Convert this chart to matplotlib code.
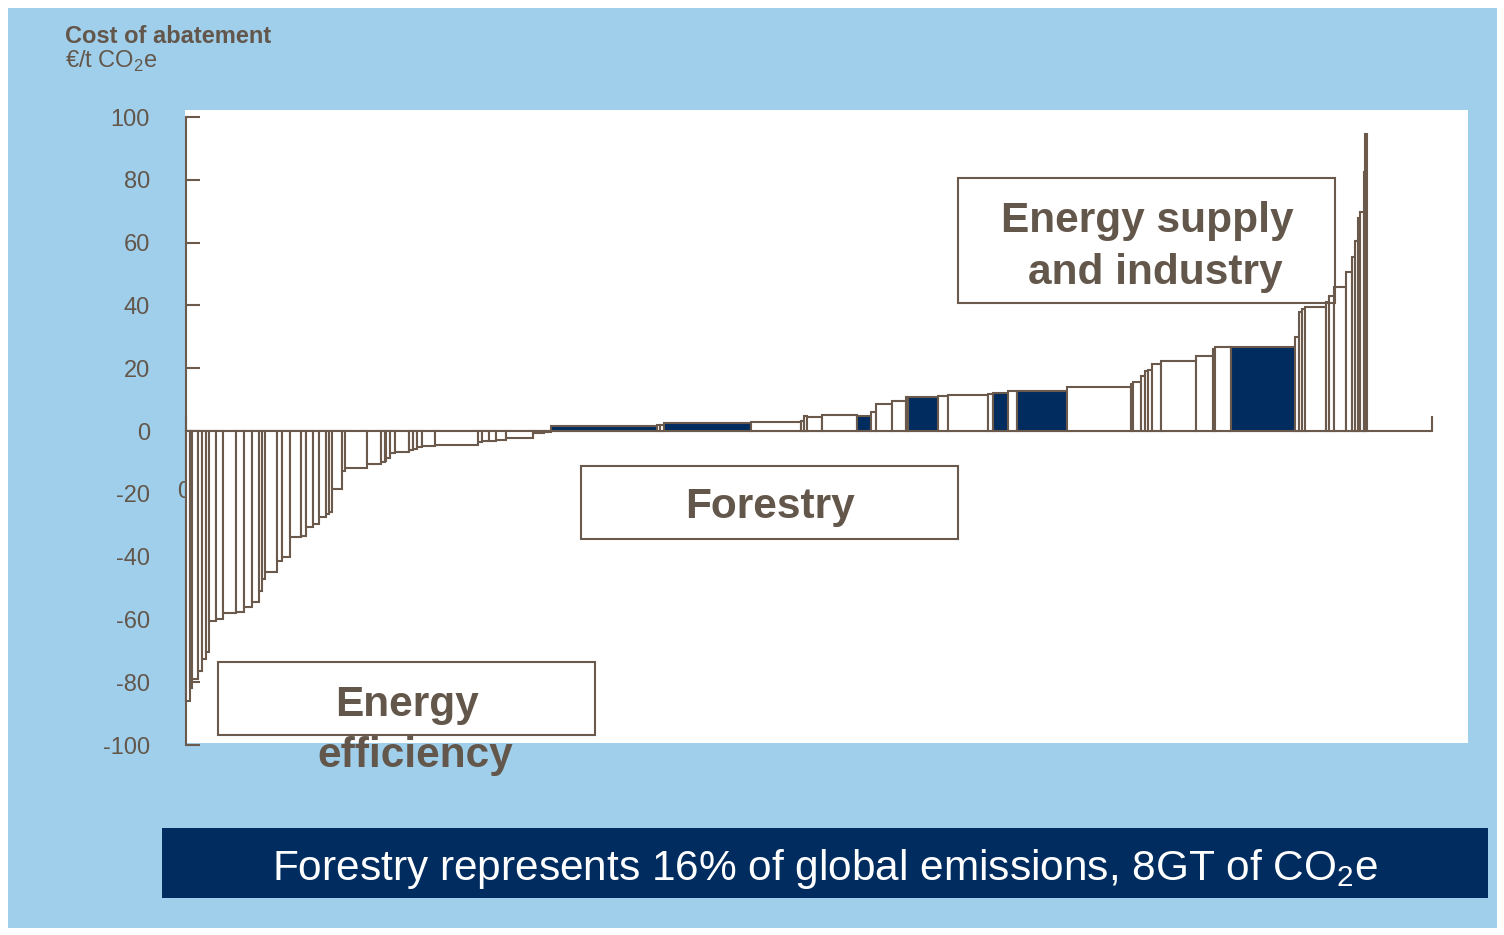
import numpy as np
import matplotlib
matplotlib.use("Agg")
import matplotlib.pyplot as plt
from matplotlib.patches import Rectangle

plt.rcParams['font.family'] = ['Liberation Sans', 'DejaVu Sans']
plt.rcParams['mathtext.fontset'] = 'custom'
plt.rcParams['mathtext.rm'] = 'Liberation Sans'
plt.rcParams['mathtext.bf'] = 'Liberation Sans:bold'

# Abatement levers, cheapest first: potential (Gt CO2e / yr) and cost (EUR / t CO2e)
potential = [0.14, 0.07, 0.22, 0.14, 0.14, 0.11, 0.25, 0.25, 0.47, 0.29,
             0.29, 0.25, 0.11, 0.14, 0.40, 0.18, 0.29, 0.43, 0.18, 0.25,
             0.22, 0.25, 0.11, 0.11, 0.36, 0.11, 0.79, 0.51, 0.11, 0.07,
             0.11, 0.18, 0.54, 0.11, 0.18, 0.18, 0.47, 1.55, 0.14, 0.25,
             0.25, 0.36, 0.98, 0.40, 0.25, 3.83, 0.11, 0.14, 3.14, 1.81,
             0.11, 0.11, 0.54, 1.26, 0.51, 0.18, 0.58, 0.51, 0.07, 1.08,
             0.36, 1.44, 0.18, 0.54, 0.33, 1.81, 2.31, 0.07, 0.29, 0.14,
             0.11, 0.14, 0.33, 1.26, 0.61, 0.07, 0.58, 2.31, 0.14, 0.11,
             0.11, 0.76, 0.11, 0.18, 0.43, 0.22, 0.11, 0.11, 0.07, 0.14,
             0.04, 0.07]
cost = [-86, -82, -79, -76.5, -72.6, -70.5, -60.5, -60, -58, -57.5,
        -56, -54.5, -51, -47, -45, -41.5, -40.2, -33.8, -33.3, -30.6,
        -29.6, -27.4, -26.5, -25.8, -18.5, -12.7, -11.8, -10.5, -10, -9.5,
        -8.7, -7, -6.8, -6.2, -5.7, -5.2, -4.9, -4.5, -3.6, -3.3,
        -3.1, -2.9, -2.3, -0.6, -0.2, 1.7, 1.9, 2.0, 2.5, 2.8,
        3.2, 4.9, 4.4, 5.2, 4.8, 6.0, 8.6, 9.5, 10.7, 10.9,
        11.2, 11.4, 11.7, 12.0, 12.6, 12.8, 13.9, 15.0, 15.6, 17.4,
        19.0, 19.5, 21.3, 22.3, 23.8, 26.0, 26.7, 26.9, 29.8, 38.0,
        38.9, 39.4, 41.0, 43.0, 45.9, 50.6, 55.4, 60.5, 67.8, 69.8,
        82.5, 94.6]
# indices of the forestry levers (drawn filled)
forestry_levers = [45, 48, 54, 59, 63, 65, 77]

y_ticks = list(range(-100, 101, 20))
y_title = "Cost of abatement"
y_unit = "€/t CO$_{2}$e"
banner = "Forestry represents 16% of global emissions, 8GT of CO$_{2}$e"

W, H = 1504, 935
BROWN = '#6B5A4B'
TEXT = '#63564A'
NAVY = '#012C5F'
SKY = '#A0CFEB'


def frac(x0, y0, x1, y1):
    """pixel box (top-left origin) -> figure-fraction rectangle args"""
    return (x0 / W, 1 - y1 / H), (x1 - x0) / W, (y1 - y0) / H


fig = plt.figure(figsize=(W / 100, H / 100), dpi=100)
fig.patch.set_facecolor('white')

for (x0, y0, x1, y1), fc, z in [((8, 8, 1497, 928), SKY, -3),
                                ((185, 110, 1468, 743), 'white', -2),
                                ((162, 828, 1488, 898), NAVY, -1)]:
    xy, w, h = frac(x0, y0, x1, y1)
    fig.add_artist(Rectangle(xy, w, h, transform=fig.transFigure,
                             facecolor=fc, edgecolor='none', zorder=z))

# plotting axes: x = 0 at px 186, 27.69 px per Gt; y from -100 (px 745) to 100 (px 117)
px_per_unit = 27.69
ax_left, ax_right = 186, 1468
ax = fig.add_axes([ax_left / W, (H - 745) / H, (ax_right - ax_left) / W, 628 / H])
ax.patch.set_visible(False)
ax.set_xlim(0, (ax_right - ax_left) / px_per_unit)
ax.set_ylim(-100, 100)

lefts = np.concatenate([[0], np.cumsum(potential)[:-1]])
fills = [NAVY if i in forestry_levers else 'white' for i in range(len(cost))]
ax.bar(lefts, cost, width=potential, align='edge', color=fills,
       edgecolor=BROWN, linewidth=1.5, zorder=3, clip_on=False)

for s in ('top', 'right'):
    ax.spines[s].set_visible(False)
ax.spines['left'].set_bounds(-100, 100)
ax.spines['bottom'].set_position(('data', 0))
ax.spines['bottom'].set_bounds(0, 45)
for s in ('left', 'bottom'):
    ax.spines[s].set_color(BROWN)
    ax.spines[s].set_linewidth(1.5)

ax.set_yticks(y_ticks)
ax.set_yticklabels([str(t) for t in y_ticks])
ax.tick_params(axis='y', direction='in', length=10, width=1.5, color=BROWN,
               labelcolor=TEXT, labelsize=17, pad=26)
ax.set_xticks([0, 45])
ax.set_xticklabels(['', ''])
ax.tick_params(axis='x', direction='in', length=11, width=1.5, color=BROWN)

ax.text(-0.07, -19.5, '0', ha='center', va='center', fontsize=17,
        color=TEXT, zorder=1)

# axis title
fig.text(65 / W, 1 - 43 / H, y_title, fontsize=17, fontweight='bold',
         color=TEXT, va='baseline', ha='left')
fig.text(65 / W, 1 - 68 / H, y_unit, fontsize=17, color=TEXT,
         va='baseline', ha='left')

# category boxes
for x0, y0, x1, y1 in [(958, 178, 1335, 303), (581, 466, 958, 539),
                       (218, 662, 595, 735)]:
    xy, w, h = frac(x0, y0, x1, y1)
    fig.add_artist(Rectangle(xy, w, h, transform=fig.transFigure,
                             facecolor='none', edgecolor=BROWN,
                             linewidth=1.5, zorder=5))

for x, y, s in [(1147, 232, 'Energy supply'), (1155, 284, 'and industry'),
                (770, 518, 'Forestry'), (407, 716, 'Energy'),
                (415, 767, 'efficiency')]:
    fig.text(x / W, 1 - y / H, s, fontsize=30.5, fontweight='bold',
             color=TEXT, ha='center', va='baseline', zorder=6)

fig.text(825.5 / W, 1 - 880 / H, banner, fontsize=30.5, color='white',
         ha='center', va='baseline', zorder=6)

fig.savefig('out.png', dpi=100)
